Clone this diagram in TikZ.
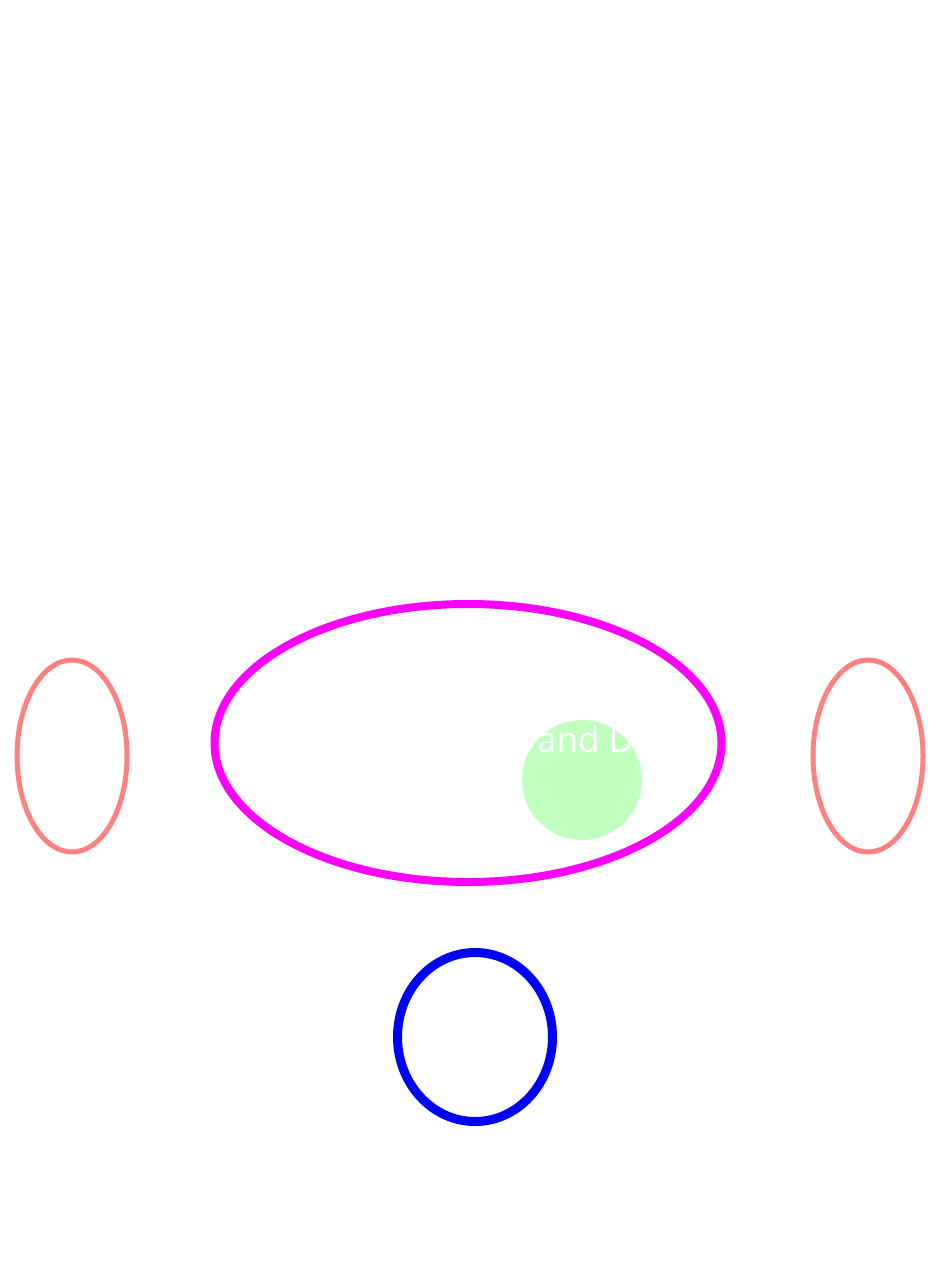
\documentclass[tikz,border=0pt]{standalone}
\usepackage{fontspec}
\setmainfont{Open Sans}
\usepackage{tikz}
\usetikzlibrary{shapes.geometric}
\definecolor{salmon}{RGB}{255,128,128}
\definecolor{mintgreen}{RGB}{192,255,192}
\definecolor{puremagenta}{RGB}{255,0,255}
\definecolor{pureblue}{RGB}{0,0,255}

\begin{document}
\begin{tikzpicture}[x=1pt,y=-1pt,
    ring/.style={ellipse,draw,inner sep=0pt,outer sep=0pt},
    sidering/.style={ring,salmon,line width=5pt,minimum width=110pt,minimum height=192pt}]
  \useasboundingbox (0,0) rectangle (941,1282);
  \node[sidering] (leftring) at (72,756) {};
  \node[sidering] (rightring) at (868,756) {};
  \node[ring,puremagenta,line width=8pt,minimum width=507pt,minimum height=278pt] (bigring) at (468,743) {};
  \node[ring,pureblue,line width=9pt,minimum width=155pt,minimum height=169pt] (bluering) at (475,1037) {};
  \node[circle,fill=mintgreen,inner sep=0pt,minimum size=120pt] (spot) at (582,780) {};
  \begin{scope}
    \clip (spot.center) circle (60pt);
    \node[anchor=base west,white,inner sep=0pt,font=\fontsize{35}{42}\selectfont] (spottext) at (537,752) {and D};
  \end{scope}
\end{tikzpicture}
\end{document}
